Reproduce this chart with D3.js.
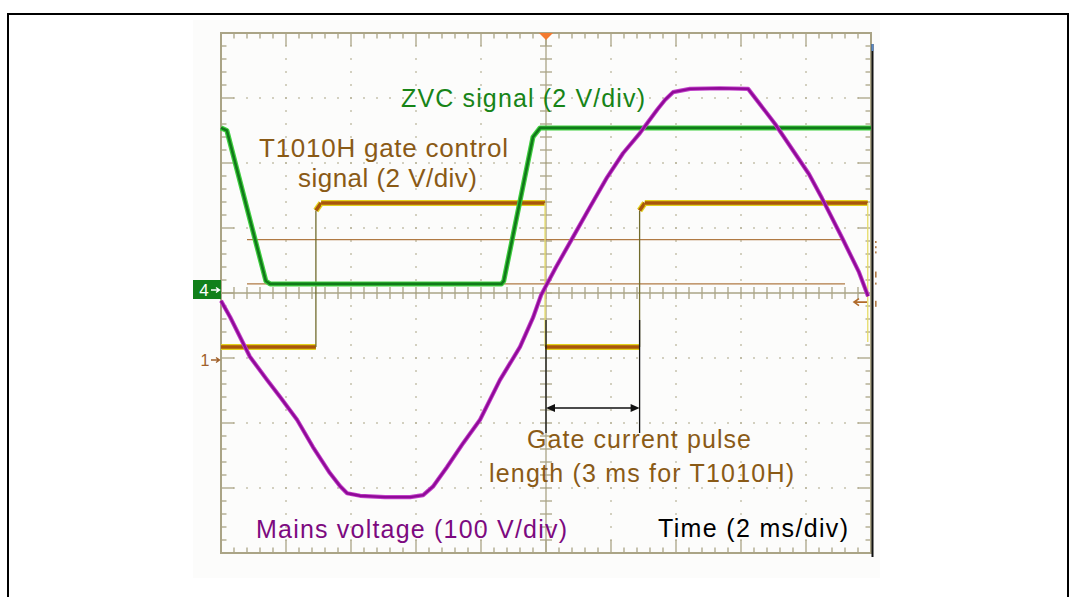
<!DOCTYPE html>
<html><head><meta charset="utf-8">
<script src="https://cdn.jsdelivr.net/npm/d3@7"></script>
<style>html,body{margin:0;padding:0;background:#fff;}svg{display:block;}</style>
</head><body>
<svg id="c" width="1072" height="597"></svg>
<script>
// ---- data (time in ms, values in volts) ----
const mainsT = [-10, -9.72, -9.11, -8.58, -8.18, -7.66, -7.17, -6.65, -6.34, -6.12, -5.72, -4.95, -4.18, -3.78, -3.48, -3.05, -2.55, -2.03, -1.42, -0.8, -0.4, -0.15, 0.31, 0.83, 1.35, 1.88, 2.37, 2.89, 3.42, 3.66, 3.91, 4.43, 5.35, 6.22, 7.05, 8.09, 8.49, 9.11, 9.63, 9.91];
const mainsV = [-12, -37, -98, -134, -160, -195, -237, -277, -297, -308, -312, -314, -314, -311, -298, -268, -231, -195, -134, -83, -38, -3, 40, 86, 132, 178, 215, 246, 282, 297, 309, 314, 315, 314, 260, 183, 146, 85, 32, -5];
const zvcT = [-10, -9.82, -8.62, -8.49, -1.37, -1.3, -0.4, -0.18, 10];
const zvcV = [5.08, 5.0, 0.37, 0.28, 0.28, 0.37, 4.8, 5.08, 5.08];
const gateT = [-10, -7.08, -7.08, -6.92, -0.03, -0.03, 2.88, 2.88, 3.04, 9.9, 9.9];
const gateV = [0.4, 0.4, 4.6, 4.83, 4.83, 0.4, 0.4, 4.6, 4.83, 4.83, 0.55];
const pulseStartMs = 0, pulseEndMs = 2.88;
const cursorDiv = [0.82, 0.14];           // two horizontal cursors (divisions)
const labelZVC = "ZVC signal (2 V/div)";
const labelGate = ["T1010H gate control", "signal (2 V/div)"];
const labelPulse = ["Gate current pulse", "length (3 ms for T1010H)"];
const labelMains = "Mains voltage (100 V/div)";
const labelTime = "Time (2 ms/div)";

// channel settings (volts per division, ground offset in divisions)
const chMains = {scale: 100, offset: 0};
const chZVC = {scale: 2, offset: 0};
const chGate = {scale: 2, offset: -1.03};

const svg = d3.select("#c");
const FONT = "'Liberation Sans', Arial, sans-serif";
const x = d3.scaleLinear().domain([-10, 10]).range([221, 871]);
const y = d3.scaleLinear().domain([-4, 4]).range([553, 33]);
const yCh = (ch) => (v) => y(ch.offset + v / ch.scale);

// outer figure frame
svg.append("rect").attr("x", 193).attr("y", 20).attr("width", 687).attr("height", 558).attr("fill", "#fcfcfb");
svg.append("path").attr("d", "M8,600 V14 H1068 V600").attr("fill", "none").attr("stroke", "#000").attr("stroke-width", 2);

// ---- graticule ----
const gc = "#aaa486", dc = "#b4ae94";
const g = svg.append("g");
const minorX = d3.range(-10, 10.001, 0.4);
const minorY = d3.range(-4, 4.001, 0.2);
const majorX = d3.range(-8, 8.001, 2).filter(v => Math.abs(v) > 1e-6);
const majorY = d3.range(-3, 3.001, 1).filter(v => Math.abs(v) > 1e-6);
majorX.forEach(t => minorY.forEach(d => g.append("rect").attr("x", x(t) - 0.75).attr("y", y(d) - 0.75).attr("width", 1.5).attr("height", 1.5).attr("fill", dc)));
majorY.forEach(d => minorX.forEach(t => g.append("rect").attr("x", x(t) - 0.75).attr("y", y(d) - 0.75).attr("width", 1.5).attr("height", 1.5).attr("fill", dc)));
g.append("line").attr("x1", x(-10)).attr("x2", x(10)).attr("y1", y(0)).attr("y2", y(0)).attr("stroke", gc).attr("stroke-width", 1.3);
g.append("line").attr("x1", x(0)).attr("x2", x(0)).attr("y1", y(-4)).attr("y2", y(4)).attr("stroke", gc).attr("stroke-width", 1.3);
minorX.forEach(t => g.append("line").attr("x1", x(t)).attr("x2", x(t)).attr("y1", y(0) - 6).attr("y2", y(0) + 6).attr("stroke", gc).attr("stroke-width", 1.3));
minorY.forEach(d => g.append("line").attr("x1", x(0) - 6).attr("x2", x(0) + 6).attr("y1", y(d)).attr("y2", y(d)).attr("stroke", gc).attr("stroke-width", 1.3));
const isMajor = (v, step) => Math.abs(v / step - Math.round(v / step)) < 1e-6;
minorX.forEach(t => {
  const L = isMajor(t, 2) ? 13 : 5.5;
  g.append("line").attr("x1", x(t)).attr("x2", x(t)).attr("y1", y(4)).attr("y2", y(4) + L).attr("stroke", gc).attr("stroke-width", 1.3);
  g.append("line").attr("x1", x(t)).attr("x2", x(t)).attr("y1", y(-4)).attr("y2", y(-4) - L).attr("stroke", gc).attr("stroke-width", 1.3);
});
minorY.forEach(d => {
  const L = isMajor(d, 1) ? 13 : 5.5;
  g.append("line").attr("x1", x(-10)).attr("x2", x(-10) + L).attr("y1", y(d)).attr("y2", y(d)).attr("stroke", gc).attr("stroke-width", 1.3);
  g.append("line").attr("x1", x(10)).attr("x2", x(10) - L).attr("y1", y(d)).attr("y2", y(d)).attr("stroke", gc).attr("stroke-width", 1.3);
});
g.append("rect").attr("x", x(-10)).attr("y", y(4)).attr("width", x(10) - x(-10)).attr("height", y(-4) - y(4)).attr("fill", "none").attr("stroke", gc).attr("stroke-width", 2);
g.append("path").attr("d", `M${x(0) - 7},${y(4)} L${x(0) + 7},${y(4)} L${x(0)},${y(4) + 7} Z`).attr("fill", "#f47a30");
svg.append("line").attr("x1", x(10) + 1.5).attr("x2", x(10) + 1.5).attr("y1", 44).attr("y2", 557).attr("stroke", "#111").attr("stroke-width", 2);
svg.append("line").attr("x1", x(10) + 1.5).attr("x2", x(10) + 1.5).attr("y1", 44).attr("y2", 51).attr("stroke", "#5a8ac8").attr("stroke-width", 2);

// cursors
cursorDiv.forEach(d => svg.append("line").attr("x1", 247).attr("x2", 845).attr("y1", y(d)).attr("y2", y(d)).attr("stroke", "#b07a44").attr("stroke-width", 1.3));
[[y(0.8), 1], [y(0.72), 1], [y(0.64), 1], [y(0.33), 6], [y(0.16), 1], [y(-0.12), 6]].forEach(([yy, h]) =>
  svg.append("rect").attr("x", 875).attr("y", yy).attr("width", 1.6).attr("height", Math.max(h, 2)).attr("fill", "#b07a44"));

// ---- traces ----
const line = d3.line();
function drawTrace(T, V, ch, halo, core, wHalo, wCore) {
  const pts = T.map((t, i) => [x(t), yCh(ch)(V[i])]);
  svg.append("path").attr("d", line(pts)).attr("fill", "none").attr("stroke", halo).attr("stroke-width", wHalo).attr("stroke-linejoin", "round");
  svg.append("path").attr("d", line(pts)).attr("fill", "none").attr("stroke", core).attr("stroke-width", wCore).attr("stroke-linejoin", "round");
}
(function () {
  const Y = yCh(chGate);
  for (let i = 0; i < gateT.length - 1; i++) {
    const p = [[x(gateT[i]), Y(gateV[i])], [x(gateT[i + 1]), Y(gateV[i + 1])]];
    if (Math.abs(gateT[i] - gateT[i + 1]) < 1e-9) {
      const rising = gateV[i + 1] > gateV[i];
      svg.append("path").attr("d", line(p)).attr("stroke", rising ? "#716b2c" : "#e6dc68").attr("stroke-width", 1.3).attr("fill", "none");
    } else {
      svg.append("path").attr("d", line(p)).attr("stroke", "#e3d21c").attr("stroke-width", 6).attr("fill", "none");
      svg.append("path").attr("d", line(p)).attr("stroke", "#a8560c").attr("stroke-width", 3.5).attr("fill", "none");
    }
  }
})();
drawTrace(zvcT, zvcV, chZVC, "#3fcf3f", "#11791a", 5, 2.6);
drawTrace(mainsT, mainsV, chMains, "#c040c8", "#900a98", 4.2, 2.4);

// ---- channel ground markers ----
svg.append("rect").attr("x", 193).attr("y", y(0) - 13).attr("width", 28).attr("height", 19).attr("fill", "#11801a");
svg.append("text").attr("x", 204).attr("y", y(0) + 3).attr("text-anchor", "middle").attr("fill", "#fff").attr("font-family", FONT).attr("font-size", 17).text("4");
svg.append("path").attr("d", `M211,${y(0) - 3} H219 M216,${y(0) - 5.5} L219.5,${y(0) - 3} L216,${y(0) - 0.5}`).attr("stroke", "#fff").attr("stroke-width", 1.4).attr("fill", "none");
const g1 = yCh(chGate)(0);
svg.append("text").attr("x", 205).attr("y", g1 + 6).attr("text-anchor", "middle").attr("fill", "#a0602a").attr("font-family", FONT).attr("font-size", 16).text("1");
svg.append("path").attr("d", `M211,${g1} H219 M216,${g1 - 2.5} L219.5,${g1} L216,${g1 + 2.5}`).attr("stroke", "#a0602a").attr("stroke-width", 1.4).attr("fill", "none");
svg.append("path").attr("d", `M867,${y(-0.14)} H855 M859,${y(-0.14) - 3.5} L854,${y(-0.14)} L859,${y(-0.14) + 3.5}`).attr("stroke", "#b06a2a").attr("stroke-width", 1.6).attr("fill", "none");

// ---- pulse-length annotation ----
[pulseStartMs, pulseEndMs].forEach(t => svg.append("line").attr("x1", x(t)).attr("x2", x(t)).attr("y1", 320).attr("y2", 433).attr("stroke", "#111").attr("stroke-width", 1.3));
const ay = 408, xa = x(pulseStartMs), xb = x(pulseEndMs);
svg.append("line").attr("x1", xa + 6).attr("x2", xb - 6).attr("y1", ay).attr("y2", ay).attr("stroke", "#111").attr("stroke-width", 1.5);
svg.append("path").attr("d", `M${xa},${ay} L${xa + 9},${ay - 4} L${xa + 9},${ay + 4} Z`).attr("fill", "#111");
svg.append("path").attr("d", `M${xb},${ay} L${xb - 9},${ay - 4} L${xb - 9},${ay + 4} Z`).attr("fill", "#111");

// ---- labels ----
function label(txt, x0, base, len, color, size) {
  svg.append("text").attr("x", x0).attr("y", base).attr("fill", color).attr("font-family", FONT).attr("font-size", size)
    .attr("textLength", len).attr("lengthAdjust", "spacing").text(txt);
}
label(labelZVC, 401, 107, 244, "#178417", 25);
label(labelGate[0], 259, 157, 249, "#8a5a16", 26);
label(labelGate[1], 298, 187, 179, "#8a5a16", 26);
label(labelPulse[0], 527, 448, 224, "#8a5a16", 25);
label(labelPulse[1], 489, 482, 305, "#8a5a16", 25);
label(labelMains, 256, 538, 311, "#7c0a80", 25);
label(labelTime, 658, 537, 190, "#000", 25);
</script>
</body></html>
